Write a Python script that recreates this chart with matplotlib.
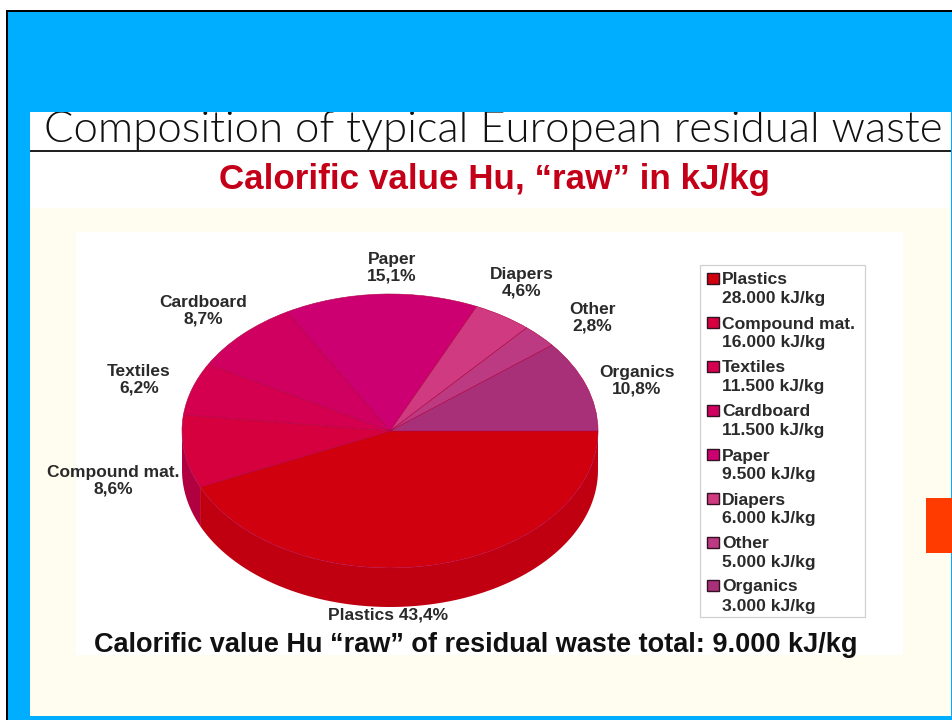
import matplotlib
matplotlib.use('Agg')
import matplotlib.pyplot as plt
from matplotlib.patches import Rectangle
import numpy as np

plt.rcParams['font.family'] = ['Liberation Sans', 'DejaVu Sans']

W, H = 952, 720

# Data from the picture
categories = ['Plastics', 'Compound mat.', 'Textiles', 'Cardboard',
              'Paper', 'Diapers', 'Other', 'Organics']
shares = [43.4, 8.6, 6.2, 8.7, 15.1, 4.6, 2.8, 10.8]
share_labels = ['43,4%', '8,6%', '6,2%', '8,7%', '15,1%', '4,6%', '2,8%', '10,8%']
calorific = ['28.000 kJ/kg', '16.000 kJ/kg', '11.500 kJ/kg', '11.500 kJ/kg',
             '9.500 kJ/kg', '6.000 kJ/kg', '5.000 kJ/kg', '3.000 kJ/kg']
colors = ['#D0000F', '#D6003F', '#D4004F', '#CF0060',
          '#CC0070', '#CF3A80', '#BC3A82', '#A83078']
side_colors = ['#C00010', '#B00040', '#A00040', '#A00050',
               '#A00060', '#A03070', '#903070', '#802060']

label_pos = [(388, 615), (113, 481), (139, 380), (203, 311),
             (392, 268), (522, 283), (592, 318), (637, 381)]
legend_y = [280, 324, 368, 412, 456, 500, 544, 587]


# Прямоугольник в пикселях картинки
def box(bg, x0, y0, x1, y1, **kw):
    bg.add_patch(Rectangle((x0, y0), x1 - x0, y1 - y0, linewidth=kw.pop('lw', 0), **kw))


# Слайд: рамка, синий фон, белая и кремовая области
def draw_slide(bg):
    box(bg, 6, 10, 952, 720, facecolor='black')
    box(bg, 8, 12, 952, 720, facecolor='#00AEFF')
    box(bg, 30, 112, 951, 716, facecolor='white')
    box(bg, 30, 208, 951, 716, facecolor='#FFFDF0')
    box(bg, 76, 232, 903, 655, facecolor='white')
    box(bg, 30, 149.5, 951, 151.5, facecolor='#222222')
    box(bg, 926, 498, 952, 553, facecolor='#FF3B00')


def draw_titles(bg):
    title = bg.text(493, 130, 'Composition of typical European residual waste',
                    family='Lato', weight=300, fontsize=31.5, color='#111111',
                    ha='center', va='center', clip_on=True)
    # верх заголовка обрезан синей полосой
    title.set_clip_path(Rectangle((30, 112), 921, 40, transform=bg.transData))
    bg.text(494.5, 179.5, 'Calorific value Hu, “raw” in kJ/kg', weight='bold',
            fontsize=25.2, color='#C40018', ha='center', va='center')
    bg.text(476, 644.5, 'Calorific value Hu “raw” of residual waste total: 9.000 kJ/kg',
            weight='bold', fontsize=19.5, color='#111111', ha='center', va='center')


# Круг сжат по вертикали, боковая стенка рисуется под ним
def draw_pie(fig):
    ax = fig.add_axes([182 / W, 1 - 607 / H, 416 / W, 313 / H])
    wedges, _ = ax.pie(shares, colors=colors, startangle=0, counterclock=False,
                       wedgeprops={'linewidth': 0.4, 'edgecolor': '#B00040', 'zorder': 3})
    ax.set_aspect('auto')
    ax.set_xlim(-1, 1)
    ax.set_ylim(-1.285, 1)
    depth = 0.285
    for w, c in zip(wedges, side_colors):
        t1, t2 = max(w.theta1, -180), min(w.theta2, 0)
        if t2 <= t1:
            continue
        t = np.radians(np.linspace(t1, t2, 80))
        xs = np.r_[np.cos(t), np.cos(t[::-1])]
        ys = np.r_[np.sin(t), np.sin(t[::-1]) - depth]
        ax.fill(xs, ys, color=c, linewidth=0, zorder=2)


def draw_labels(bg):
    for name, share, (x, y) in zip(categories, share_labels, label_pos):
        if name == 'Plastics':
            text = name + ' ' + share
        else:
            text = name + '\n' + share
        bg.text(x, y, text, weight='bold', fontsize=12.5, color='#2A2A2A',
                ha='center', va='center', linespacing=1.15)


def draw_legend(bg):
    box(bg, 699.5, 265, 864.5, 617, facecolor='white', edgecolor='#D0D0D0', lw=0.9)
    for name, value, c, y in zip(categories, calorific, colors, legend_y):
        box(bg, 706.5, y - 7, 718.5, y + 4, facecolor=c, edgecolor='#331122', lw=1)
        bg.text(722, y, name, weight='bold', fontsize=12.6, color='#2A2A2A', va='center')
        bg.text(722, y + 19, value, weight='bold', fontsize=12.6, color='#2A2A2A', va='center')


def build_plot():
    fig = plt.figure(figsize=(W / 100, H / 100), dpi=100, facecolor='white')
    bg = fig.add_axes([0, 0, 1, 1])
    bg.set_xlim(0, W)
    bg.set_ylim(H, 0)
    bg.axis('off')
    draw_slide(bg)
    draw_titles(bg)
    draw_labels(bg)
    draw_legend(bg)
    draw_pie(fig)
    fig.savefig('out.png', dpi=100)


build_plot()
